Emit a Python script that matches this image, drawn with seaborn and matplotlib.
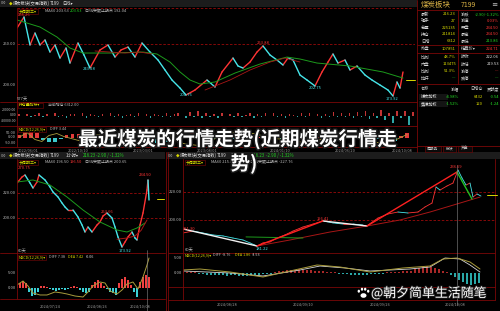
import numpy as np
import pandas as pd
import matplotlib
matplotlib.use("Agg")
import matplotlib.pyplot as plt
import matplotlib.patheffects as pe
from matplotlib.patches import Rectangle, Ellipse
import seaborn as sns

# ---------------- data ----------------
# top daily chart (day index, price)
top_days = [0, 7, 13, 18, 23, 28, 33, 38, 43, 49, 53, 61, 67, 73, 83, 91, 98, 104, 111, 118,
            125, 133, 141, 148, 155, 163, 169, 178, 190, 198, 205, 216, 221, 226, 233, 240, 246, 253, 260, 266,
            271, 276, 283, 290, 298, 305, 311, 316, 321, 328, 333, 340, 348, 355, 363, 371, 376, 380, 383, 386]
top_close = [269.5, 282.9, 248.8, 263.4, 248.8, 254.9, 240.2, 248.8, 232.9, 245.1,
             226.8, 251.2, 236.6, 220.7, 242.7, 248.8, 234.1, 242.7, 246.3, 234.1,
             251.2, 240.2, 230.5, 218.3, 206.1, 196.3, 187.8, 193.9, 206.1, 197.6,
             215.9, 232.9, 223.2, 220.7, 228.0, 240.2, 247.6, 236.6, 230.5, 224.4,
             232.9, 230.5, 212.2, 206.1, 198.8, 215.9, 228.0, 237.8, 226.8, 230.5,
             218.3, 223.2, 212.2, 206.1, 200.0, 193.9, 186.6, 203.7, 196.3, 215.9]
top_ma_g_days = [0, 23, 40, 53, 66, 93, 126, 140, 153, 163, 173, 183, 198, 218, 243, 270, 283, 300, 333, 366, 386]
top_ma_g = [279.3, 270.7, 258.5, 245.1, 239.0, 239.0, 240.2, 237.8, 228.0, 215.9, 206.1, 201.2, 203.7,
            214.6, 225.6, 234.1, 231.7, 226.8, 223.2, 215.9, 208.5]
top_ma_r1_days = [78, 93, 108, 123, 135]
top_ma_r1 = [241.5, 240.2, 239.0, 240.2, 237.8]
top_ma_r2_days = [188, 213, 233, 253, 268, 283]
top_ma_r2 = [193.9, 206.1, 218.3, 228.0, 232.9, 228.0]
top_vol_k = [3, -2, 4, -3, 2, 5, -4, 3, -2, 6, -3, 2, -5, 4, 3, -2, 5, -6, 3, 2,
             -3, 4, -2, 6, -4, 3, -5, 2, 4, -3, 5, -2, 3, -6, 4, 2, -3, 5, -4, 3,
             6, -2, -5, 9, -4, 12, -7, 5, -3, 4, -5, 6, -2, 3, -4, 5, -3, 2, 6, -5,
             4, -3, 7, -2, 5, -4, 3, -6, 4, 2, -3, 5, -4, 6, -2, 3, -5, 4, -3, 8,
             -4, 6, -3, 5, -6, 9, -4, 11, -8, 6, -5, 14, -10, 7, -18, 10, -6, 12, -22, 8]
top_macd_hist = [30, 60, 75, 50, -20, -45, -40, -15, 25, 40, 35, 10, -10, -25, -30, -20, 15, 30, 40, 20,
                 -5, -20, -35, -50, -60, -45, -20, 10, 30, 45, 50, 35, 10, -15, -30, -25, -10, 15, 25, 20,
                 5, -10, -30, -45, -40, -20, 5, 25, 40, 30, 10, -10, -25, -35, -30, -15, 5, 20, 30, 25,
                 -10, -35, -50, -30, 20, 45]
top_dif_days = [0, 8, 16, 23, 30, 38, 45, 60, 75, 90, 105, 120, 135, 150, 165, 180, 195, 210, 225, 240,
                255, 270, 285, 300, 315, 330, 345, 360, 375, 390]
top_dif = [0, 50, -20, -40, 20, 40, 10, -30, 20, 40, -10, -40, 10, 30, -60, -80, -20, 40, 60, 30,
           -10, -20, -50, -30, 20, 30, -10, -50, -40, 30]

# lower-left hourly chart
bl_days = [0, 5, 8, 13, 16, 20, 22, 28, 33, 36, 41, 45, 48, 51, 56, 61, 65, 68, 71, 75,
           80, 83, 86, 90, 95, 98, 101, 105, 108, 111, 115, 118, 120, 123, 126, 130, 131, 132]
bl_close = [228.0, 232.8, 234.4, 228.0, 224.0, 228.8, 234.4, 230.4, 224.8, 220.8,
            216.8, 212.0, 208.8, 206.4, 206.4, 200.8, 194.4, 188.8, 192.8, 188.8,
            194.4, 196.8, 201.6, 204.0, 200.0, 192.8, 184.8, 176.8, 180.8, 184.8,
            188.8, 184.0, 182.4, 194.4, 204.0, 222.4, 230.4, 214.4]
bl_ma_g_days = [0, 16, 33, 50, 66, 83, 100, 110, 120, 128]
bl_ma_g = [228.8, 230.4, 226.4, 216.8, 206.4, 196.8, 190.4, 188.8, 192.0, 196.0]
bl_ma_r_days = [100, 110, 118, 124, 130]
bl_ma_r = [183.0, 184.0, 185.6, 190.0, 198.4]
bl_hist = [1.0, 1.8, 2.2, 1.5, -1.5, -2.7, -2.3, -1.2, 0.5, 0.8, 0.4,
           -0.5, -0.8, -1.0, -0.7, -0.4, -0.6, -0.3, 0.3, 0.5, 0.3,
           -0.8, -1.5, -1.8, -1.2, 1.0, 2.0, 2.5, 1.5, 0.6,
           -0.5, -1.2, -1.8, -2.3, 1.5, 3.0, 3.8, 2.5, 1.0, -1.5, -3.0, 2.0, 3.5, 4.3, 3.8]
bl_dif_days = [0, 6, 11, 16, 23, 30, 38, 45, 50, 58, 66, 71, 76, 83, 88, 93, 100, 105, 110, 116, 121, 126, 130, 132]
bl_dif = [1.0, 2.33, 0.67, -1.67, -2.33, -2.33, -1.33, -1.67, -2.0, -2.67, -3.0, -1.33, 0.67, 2.0,
          1.67, -1.0, -2.0, -0.67, 1.33, 2.0, -0.33, 3.67, 7.67, 10.0]

# lower-right daily chart
br_days = [0, 10, 20, 30, 40, 50, 60, 67, 74, 80, 87, 94, 102, 110, 120, 130, 140, 150, 160, 170,
           180, 185, 195, 205, 215, 225, 235, 242, 249, 253, 257, 264, 270, 275, 279, 283, 287, 290, 294, 298]
br_close = [190.7, 192.1, 190.7, 189.3, 188.6, 187.1, 185.7, 183.6, 181.4, 183.6,
            184.3, 187.1, 189.3, 192.1, 195.0, 197.1, 199.3, 197.9, 197.1, 197.1,
            196.4, 196.4, 201.4, 204.3, 205.7, 205.0, 205.7, 209.3, 212.1, 223.6,
            221.4, 224.3, 226.4, 235.7, 230.0, 225.0, 226.4, 216.4, 218.6, 217.1]
br_trend_days = [0, 74, 140, 184, 274, 289]
br_trend = [193.6, 181.4, 199.3, 195.7, 234.3, 215.0]
br_trend_col = ["white", "red", "white", "red", "green"]
br_ma_r_days = [74, 107, 147, 184, 217, 247, 277, 297]
br_ma_r = [181.4, 185.7, 191.4, 195.7, 200.0, 205.7, 212.1, 216.4]
br_ma_g_days = [63, 120]
br_ma_g = [187.9, 187.1]
br_hist = [0.3, 0.4, 0.3, 0.2, -0.3, -0.5, -0.6, -0.7, -0.6, -0.8, -0.7, -0.9, -0.8, -0.7, -0.9, -1.0,
           -0.9, -0.8, -0.7, -0.6, -0.4, -0.3, -0.2, 0.3, 0.5, 0.7, 0.9, 1.0, 1.1, 1.2, 1.1, 1.0,
           0.9, 0.8, 0.7, 0.5, 0.4, 0.3, 0.2, -0.2, -0.3, -0.5, -0.6, -0.7, -0.6, -0.7, -0.6, -0.5,
           -0.4, -0.3, -0.2, 0.2, 0.3, 0.3, 0.4, 0.5, 0.6, 0.8, 1.2, 1.6, 2.0, 2.3, 2.1, 1.8, 1.3,
           0.7, 0.2, -0.8, -1.5, -2.2, -3.0, -3.6, -4.0, -3.8, -3.4]
br_dif_days = [0, 17, 47, 80, 107, 134, 157, 187, 220, 247, 260, 274, 287, 297]
br_dif = [1.0, 1.33, 0.33, -1.33, 0.67, 2.67, 2.0, 0.33, 1.67, 2.33, 4.67, 5.0, 3.67, 1.33]
br_dea_days = [0, 47, 80, 117, 137, 162, 187, 227, 247, 262, 277, 287, 297]
br_dea = [0.67, 0.0, -1.0, 1.0, 2.33, 1.67, 0.67, 1.33, 2.0, 5.0, 4.67, 2.67, 0.33]

# texts
title_line1 = "最近煤炭的行情走势(近期煤炭行情走"
title_line2 = "势)"
watermark = "@朝夕简单生活随笔"
info_left_labels = ["最新", "现手", "总量", "持仓", "日增", "外盘", "比例", "内盘", "比例", "拉杆"]
info_left_values = ["216.23", "27", "225135", "211814", "6312", "107851", "48.7%", "113475", "51.3%", "---"]
info_right_labels = ["涨跌", "涨速", "开盘", "最高", "最低", "结算价▾", "昨收", "昨结", "涨停", "跌停"]
info_right_values = ["-2.90/-1.32%", "0.03%", "234.50", "234.50", "213.86", "224.71", "222.06", "219.53", "---", "---"]
table_header = ["名称", "涨幅", "日增仓", "贡献度"]
table_rows = [["煤炭加权", "-4.98%", "6432", "-0.54"], ["焦煤加权", "-1.52%", "120", "-1.24"]]
top_dates = ["2022/06/01", "2022/10/10", "2023/03/01", "2023/08/01", "2024/01/10", "2024/06/20", "2024/10/08"]
bl_dates = ["2024/07/24", "2024/08/26", "2024/10/08"]
br_dates = ["2024/08/28", "2024/09/10", "2024/09/26", "2024/10/08"]

# ---------------- style ----------------
sns.set_theme(style="dark", rc={"figure.facecolor": "black", "axes.facecolor": "black"})
plt.rcParams["font.family"] = ["Noto Sans CJK SC", "DejaVu Sans"]
plt.rcParams["axes.unicode_minus"] = False

RED = "#ff3434"
CYAN = "#46e6ea"
GRN = "#1c9a1c"
DRED = "#a81616"
BORDER = "#7a0808"
GRID = "#9a0a0a"
YEL = "#d8d800"
KHAKI = "#a99c3c"
GRAY = "#bcbcbc"
GOLD = "#dcb447"
GREEN_T = "#22d622"

W, H = 500, 311
fig = plt.figure(figsize=(5, 3.11), dpi=100, facecolor="black")


def AX(x0, y0, x1, y1):
    ax = fig.add_axes([x0 / W, 1 - y1 / H, (x1 - x0) / W, (y1 - y0) / H])
    ax.set_facecolor("black")
    return ax


def finish(ax, xlim, ylim):
    ax.set_xlim(*xlim)
    ax.set_ylim(*ylim)
    ax.set_xticks([])
    ax.set_yticks([])
    ax.set_xlabel("")
    ax.set_ylabel("")
    for s in ax.spines.values():
        s.set_visible(False)
    ax.grid(False)


def seg_plot(ax, xs, ys, colors, lw):
    rows = []
    for i in range(len(xs) - 1):
        rows.append((xs[i], ys[i], i, colors[i]))
        rows.append((xs[i + 1], ys[i + 1], i, colors[i]))
    df = pd.DataFrame(rows, columns=["x", "y", "u", "c"])
    pal = {c: c for c in df["c"].unique()}
    sns.lineplot(data=df, x="x", y="y", units="u", hue="c", palette=pal, estimator=None,
                 sort=False, lw=lw, ax=ax, legend=False)


def dir_colors(ys):
    return [RED if ys[i + 1] >= ys[i] else CYAN for i in range(len(ys) - 1)]


def line(ax, xs, ys, color, lw):
    sns.lineplot(x=xs, y=ys, color=color, lw=lw, ax=ax, estimator=None, sort=False)


def bars(ax, xs, vals, width, pos, neg):
    ax.bar(xs, vals, width=width, color=[pos if v >= 0 else neg for v in vals], linewidth=0)


dash = (0, (3, 2))

# ---- top daily chart ----
axT = AX(17, 8, 415, 102)
axT.axhline(250, color=GRID, lw=0.6, ls=dash)
seg_plot(axT, top_days, top_close, dir_colors(top_close), 1.0)
line(axT, top_ma_g_days, top_ma_g, GRN, 0.7)
line(axT, top_ma_r1_days, top_ma_r1, DRED, 0.6)
line(axT, top_ma_r2_days, top_ma_r2, DRED, 0.6)
finish(axT, (0, 398), (179.3, 293.9))

axV = AX(17, 102, 415, 126)
bars(axV, np.arange(len(top_vol_k)) * 4, np.array(top_vol_k) * 1500, 1.4, "#c23434", "#2fa6a6")
finish(axV, (-2, 398), (-38180, 49090))

axM = AX(17, 126, 415, 146)
bars(axM, np.arange(len(top_macd_hist)) * 6, top_macd_hist, 3.5, "#e43a3a", "#3cc8cc")
line(axM, top_dif_days, top_dif, KHAKI, 0.6)
finish(axM, (-2, 398), (-85, 115))

# ---- lower-left hourly chart ----
axL = AX(17, 159, 165, 253)
axL.axhline(220, color=GRID, lw=0.6, ls=dash)
axL.axhline(200, color=GRID, lw=0.6, ls=dash)
seg_plot(axL, bl_days, bl_close, dir_colors(bl_close), 1.0)
line(axL, bl_ma_g_days, bl_ma_g, GRN, 0.7)
line(axL, bl_ma_r_days, bl_ma_r, DRED, 0.7)
finish(axL, (0, 148), (172.0, 247.2))

axLM = AX(17, 253, 165, 299)
bars(axLM, np.arange(len(bl_hist)) * 3, bl_hist, 2.2, "#f04040", "#3ad0d6")
line(axLM, bl_dif_days, bl_dif, KHAKI, 0.7)
finish(axLM, (0, 148), (-3.67, 11.67))

# ---- lower-right daily chart ----
axR = AX(183, 159, 495, 253)
axR.axhline(220, color=GRID, lw=0.6, ls=dash)
axR.axhline(200, color=GRID, lw=0.6, ls=dash)
seg_plot(axR, br_days, br_close, dir_colors(br_close), 0.6)
line(axR, br_ma_r_days, br_ma_r, DRED, 0.7)
line(axR, br_ma_g_days, br_ma_g, GRN, 0.7)
tcol = {"white": "#f0f0f0", "red": "#ff2020", "green": "#22c022"}
seg_plot(axR, br_trend_days, br_trend, [tcol[c] for c in br_trend_col], 1.0)
finish(axR, (0, 312), (176.4, 243.6))

axRM = AX(183, 253, 495, 287)
bars(axRM, np.arange(len(br_hist)) * 4, br_hist, 2.0, "#a82828", "#2aa8a8")
line(axRM, br_dea_days, br_dea, "#d8d8d8", 0.6)
line(axRM, br_dif_days, br_dif, KHAKI, 0.7)
finish(axRM, (0, 312), (-4.67, 6.67))

# ---------------- overlay (pixel coordinates) ----------------
ov = fig.add_axes([0, 0, 1, 1], zorder=10)
ov.set_xlim(0, W)
ov.set_ylim(H, 0)
ov.axis("off")
ov.patch.set_alpha(0)


def T(x, y, s, c=GRAY, fs=3.0, ha="left", va="center", **kw):
    return ov.text(x, y, s, color=c, fontsize=fs, ha=ha, va=va, **kw)


def L(x0, y0, x1, y1, c=BORDER, lw=0.6, **kw):
    ov.plot([x0, x1], [y0, y1], color=c, lw=lw, **kw)


def R(x0, y0, x1, y1, c="#1c1c1c", ec="none", lw=0.5):
    ov.add_patch(Rectangle((x0, y0), x1 - x0, y1 - y0, facecolor=c, edgecolor=ec, lw=lw))


# header strips
R(0, 0, 417, 6.5)
R(0, 152, 165, 159)
R(167, 152, 500, 159)

# top panel borders
L(17, 7.5, 413, 7.5, c=GRID, ls=dash)
L(17, 7.5, 17, 146.5)
L(417, 0, 417, 152)
for yy in (102, 126, 146.5):
    L(0, yy, 417, yy)
# info panel borders
L(417, 10, 500, 10)
L(458, 10, 458, 84)
L(417, 45, 500, 45)
L(417, 53, 500, 53)
L(417, 84, 500, 84)
L(417, 146, 500, 146)

# lower panel borders
L(17, 159, 17, 299)
L(0, 253, 165, 253)
L(0, 299, 165, 299)
L(165.5, 152, 165.5, 311)
L(168, 152, 168, 311)
L(183, 159, 183, 300)
L(495, 159, 495, 300)
for yy in (253, 287, 300):
    L(168, yy, 495, yy)
# cursor lines and last-price ticks
L(147, 250, 147, 311, c="#8a8a8a", lw=0.4)
L(457, 165, 457, 305, c="#8a8a8a", lw=0.4)
L(157, 199, 164, 199, c=YEL, lw=0.7)
L(487, 195, 497, 195, c=YEL, lw=0.7)
L(406, 80, 415, 80, c=YEL, lw=0.7)

# ---- top header / labels ----
T(1, 3.2, "∞", c="#9a9a9a", fs=3.2)
T(9, 3.2, "◆", c=YEL, fs=2.6)
T(13, 3.2, "煤炭板块(交易指数)", c="#e0e0e0", fs=3.1)
T(50, 3.2, "7199", c="#e0e0e0", fs=3.1)
T(62, 3.2, "日线▾", c="#e0e0e0", fs=3.1)

R(18, 8.5, 38, 14, c="black", ec=BORDER, lw=0.4)
T(19, 11.2, "长周期三▾", c=YEL, fs=2.9)
T(45, 11.2, "MA60 203.63", c=GRAY, fs=2.9)
T(70, 11.2, "203.63", c=GREEN_T, fs=2.9)
T(85, 11.2, "日线突破止损点 192.04", c=GRAY, fs=2.9)

T(18, 15, "266.26", c=RED, fs=3.0)
T(83, 69, "243.28", c=CYAN, fs=3.0)
T(180, 95, "201.76", c=CYAN, fs=3.0)
T(257, 43, "253.88", c=RED, fs=3.0)
T(309, 88, "202.75", c=CYAN, fs=3.0)
T(386, 99, "173.92", c=CYAN, fs=3.0)

T(16, 44, "250.00", fs=3.0, ha="right")
T(16, 85, "200.00", fs=3.0, ha="right")
T(17, 98.5, "577天", c=GRAY, fs=3.0)

R(18, 103, 43, 108, c="black", ec=BORDER, lw=0.4)
T(19, 105.5, "持仓量指标▾", c=YEL, fs=2.8)
T(48, 105.5, "当前增仓 6312.00", c=GRAY, fs=2.8)
T(16, 110, "20000.00", fs=2.5, ha="right")
T(16, 115.5, "0.00", fs=2.5, ha="right")
T(16, 121, "-20000.00", fs=2.5, ha="right")

R(18, 127, 46, 131.5, c="black", ec=BORDER, lw=0.4)
T(19, 129.2, "MACD(12,26,9)▾", c=YEL, fs=2.7)
T(50, 129.2, "DIFF 3.44", c=GRAY, fs=2.7)
T(16, 133, "50.00", fs=2.8, ha="right")
T(16, 137.5, "0.00", fs=2.8, ha="right")
T(16, 142.5, "-50.00", fs=2.8, ha="right")

for xx, d in zip([28, 78, 143, 207, 280, 345, 402], top_dates):
    T(xx, 150.5, d, c="#9a9a9a", fs=2.8, ha="center")

# ---- info panel ----
T(421, 5, "煤炭板块", c=GOLD, fs=5.4)
T(461, 5, "7199", c=GOLD, fs=5.0)
T(491, 4.5, "≡", c="#bbbbbb", fs=4.5)
right_cols = [GREEN_T, RED, RED, RED, GREEN_T, RED, "#e0e0e0", "#e0e0e0", RED, GREEN_T]
rows_y = [14, 20.8, 27.6, 34.4, 41.2, 48.8, 57, 64, 71, 78.2]
for i, yy in enumerate(rows_y):
    T(421, yy, info_left_labels[i], c="#d6d6d6", fs=3.1)
    T(456, yy, info_left_values[i], c=YEL if info_left_values[i] != "---" else GREEN_T, fs=3.0, ha="right")
    T(461, yy, info_right_labels[i], c="#d6d6d6", fs=3.1)
    T(499, yy, info_right_values[i], c=right_cols[i], fs=3.0, ha="right")
T(421, 89, table_header[0], c="#cfcfcf", fs=3.0)
T(459, 89, table_header[1], c="#cfcfcf", fs=3.0, ha="right")
T(483, 89, table_header[2], c="#cfcfcf", fs=3.0, ha="right")
T(499, 89, table_header[3], c="#cfcfcf", fs=3.0, ha="right")
for j, (row, yy) in enumerate(zip(table_rows, [97, 104])):
    R(419, yy - 3, 448, yy + 3, c="#141414")
    T(421, yy, row[0], c="#e6e6e6", fs=3.0)
    T(459, yy, row[1], c=GREEN_T, fs=3.0, ha="right")
    T(483, yy, row[2], c=YEL, fs=3.0, ha="right")
    T(499, yy, row[3], c=GREEN_T, fs=3.0, ha="right")
for (x0, x1, s) in [(425, 441, "周期品"), (443, 456, "板块"), (458, 472, "资金")]:
    R(x0, 146, x1, 151.5, c="#0a0a0a", ec=BORDER, lw=0.4)
    T((x0 + x1) / 2, 148.8, s, c="#cfcfcf", fs=2.7, ha="center")

# ---- lower-left labels ----
T(1, 155.5, "∞", c="#9a9a9a", fs=3.2)
T(9, 155.5, "◆", c=YEL, fs=2.6)
T(13, 155.5, "煤炭板块(交易指数)", c="#e0e0e0", fs=3.1)
T(50, 155.5, "7199", c="#e0e0e0", fs=3.1)
T(66, 155.5, "1小时▾", c="#e0e0e0", fs=3.1)
T(83, 155.5, "216.23", c=GREEN_T, fs=3.1)
T(96, 155.5, "-2.90 / -1.32%", c=GREEN_T, fs=3.1)

R(18, 159.5, 38, 164.5, c="black", ec=BORDER, lw=0.4)
T(19, 162, "长周期三▾", c=YEL, fs=2.9)
T(45, 162, "MA60 196.50", c=GRAY, fs=2.9)
T(70, 162, "196.50", c=RED, fs=2.9)
T(85, 162, "日线突破止损点 200.65", c=GRAY, fs=2.9)
T(18, 168, "270.75", c=RED, fs=3.0)
T(101, 212, "253.66", c=RED, fs=3.0)
T(119, 251.5, "173.92", c=CYAN, fs=3.0)
T(139, 174.5, "234.50", c=RED, fs=3.0)
T(16, 193, "220.00", fs=3.0, ha="right")
T(16, 218, "200.00", fs=3.0, ha="right")
T(18, 250, "60天", c=GRAY, fs=3.0)
R(18, 254.5, 46, 259.5, c="black", ec=BORDER, lw=0.4)
T(19, 257, "MACD(12,26,9)▾", c=YEL, fs=2.7)
T(49, 257, "DIFF 7.38", c=GRAY, fs=2.7)
T(68, 257, "DEA 7.42", c=YEL, fs=2.7)
T(86, 257, "-0.06", c="#e0e0e0", fs=2.7)
T(16, 273, "5.00", fs=3.0, ha="right")
T(16, 288, "0.00", fs=3.0, ha="right")
for xx, d in zip([50, 97, 140], bl_dates):
    T(xx, 306, d, c="#9a9a9a", fs=2.8, ha="center")

# ---- lower-right labels ----
T(168, 155.5, "∞", c="#9a9a9a", fs=3.2)
T(176, 155.5, "◆", c=YEL, fs=2.6)
T(180, 155.5, "煤炭板块(交易指数)", c="#e0e0e0", fs=3.1)
T(217, 155.5, "7199", c="#e0e0e0", fs=3.1)
T(230, 155.5, "日线▾", c="#e0e0e0", fs=3.1)
T(252, 155.5, "216.23", c=GREEN_T, fs=3.1)
T(266, 155.5, "-2.90 / -1.32%", c=GREEN_T, fs=3.1)

R(185, 159.5, 205, 164.5, c="black", ec=BORDER, lw=0.4)
T(186, 162, "长周期三▾", c=YEL, fs=2.9)
T(211, 162, "MA60 215.62", c=GRAY, fs=2.9)
T(250, 162, "日线突破止损点 -227.76", c=GRAY, fs=2.9)
T(183, 229, "191.30", c=RED, fs=3.0)
T(256, 249.5, "181.22", c=CYAN, fs=3.0)
T(317, 219, "196.41", c=RED, fs=3.0)
T(450, 167.5, "236.59", c=RED, fs=3.0)
T(182, 192, "220.00", fs=3.0, ha="right")
T(182, 220, "200.00", fs=3.0, ha="right")
T(185, 249, "60天", c=GRAY, fs=3.0)
T(185, 255.5, "MACD(12,26,9)▾", c=YEL, fs=2.7)
T(213, 255.5, "DIFF -8.76", c=GRAY, fs=2.7)
T(235, 255.5, "DEA 1.86", c=YEL, fs=2.7)
T(252, 255.5, "-3.53", c="#e0e0e0", fs=2.7)
T(182, 258, "5.00", fs=3.0, ha="right")
T(182, 273, "0.00", fs=3.0, ha="right")
for xx, d in zip([227, 303, 380, 455], br_dates):
    T(xx, 305, d, c="#9a9a9a", fs=2.8, ha="center")

# ---- title overlay ----
stroke = [pe.withStroke(linewidth=2.2, foreground="#1a1a1a")]
T(238, 139, title_line1, c="white", fs=14, ha="center", weight="bold", path_effects=stroke, zorder=20)
T(244, 163.5, title_line2, c="white", fs=14, ha="center", weight="bold", path_effects=stroke, zorder=20)

# ---- watermark ----
for (cx, cy, w, h) in [(363.5, 295.5, 6.0, 4.6), (358.8, 291.2, 2.4, 3.0), (362.0, 289.2, 2.4, 3.0),
                       (365.2, 289.2, 2.4, 3.0), (368.2, 291.2, 2.4, 3.0)]:
    ov.add_patch(Ellipse((cx, cy), w, h, facecolor="white", edgecolor="none", zorder=20))
T(371, 293, watermark, c="white", fs=9.3, weight="normal", zorder=20,
  path_effects=[pe.withStroke(linewidth=1.2, foreground="#222222")])

fig.savefig("out.png", dpi=100, facecolor="black")
